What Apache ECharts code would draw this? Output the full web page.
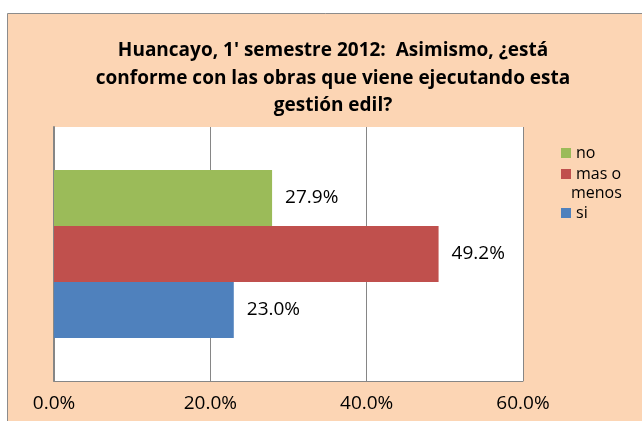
<!DOCTYPE html>
<html>
<head>
<meta charset="utf-8">
<script src="https://cdn.jsdelivr.net/npm/echarts@6/dist/echarts.min.js"></script>
<style>
  html, body { margin: 0; padding: 0; background: #fff; }
  #chart { width: 642px; height: 421px; }
</style>
</head>
<body>
<div id="chart"></div>
<script>
// single category, three answers side by side, "no" on top
const categories = ['Huancayo'];
const seriesNames = ['no', 'mas o menos', 'si'];
const seriesValues = [[27.9], [49.2], [23.0]];
const seriesColors = ['#9BBB59', '#C0504D', '#4F81BD'];
const xTicks = [0, 20, 40, 60];

const font = 'Open Sans';
const chart = echarts.init(document.getElementById('chart'));

const series = seriesNames.map((name, i) => ({
  name,
  type: 'bar',
  data: seriesValues[i],
  barWidth: 56,
  barGap: '0%',
  itemStyle: { color: seriesColors[i] },
  label: {
    show: true,
    position: 'right',
    distance: 13,
    color: '#000',
    fontFamily: font,
    fontSize: 19,
    formatter: p => p.value.toFixed(1) + '%'
  }
}));

const legendTops = { 'no': 140, 'mas o menos': 161, 'si': 200 };
const legends = Object.keys(legendTops).map(name => ({
  data: [name],
  left: 556,
  top: legendTops[name],
  itemWidth: 10,
  itemHeight: 10,
  itemGap: 0,
  icon: 'rect',
  selectedMode: false,
  formatter: n => n === 'mas o menos' ? 'mas o' : n,
  textStyle: { fontFamily: font, fontSize: 16, color: '#000' }
}));

chart.setOption({
  backgroundColor: '#fff',
  animation: false,
  graphic: [
    {
      type: 'rect',
      z: -10,
      shape: { x: 7.5, y: 13.5, width: 700, height: 500 },
      style: { fill: '#FCD5B4', stroke: '#8C8C8C', lineWidth: 1 }
    },
    {
      type: 'text',
      left: 571,
      top: 185,
      style: { text: 'menos', fontFamily: font, fontSize: 16, fill: '#000' }
    }
  ],
  title: {
    text: "Huancayo, 1' semestre 2012:  Asimismo, ¿está\nconforme con las obras que viene ejecutando esta\ngestión edil?",
    left: 328,
    textAlign: 'center',
    top: 32,
    textStyle: {
      fontFamily: font,
      fontWeight: 'bold',
      fontSize: 19,
      lineHeight: 27.5,
      color: '#000'
    }
  },
  legend: legends,
  grid: {
    left: 54,
    right: 119,
    top: 127,
    bottom: 40,
    show: true,
    backgroundColor: '#fff',
    borderWidth: 0
  },
  xAxis: {
    type: 'value',
    min: 0,
    max: 60,
    interval: 20,
    axisLine: { show: true, lineStyle: { color: '#868686', width: 1 } },
    axisTick: { show: false },
    splitLine: { show: true, lineStyle: { color: '#868686', width: 1 } },
    axisLabel: {
      margin: 13,
      fontFamily: font,
      fontSize: 19,
      color: '#000',
      formatter: v => xTicks.includes(v) ? v.toFixed(1) + '%' : ''
    }
  },
  yAxis: {
    type: 'category',
    data: categories,
    axisLine: { show: true, lineStyle: { color: '#868686', width: 2 } },
    axisTick: { show: false },
    axisLabel: { show: false }
  },
  series
});
</script>
</body>
</html>
